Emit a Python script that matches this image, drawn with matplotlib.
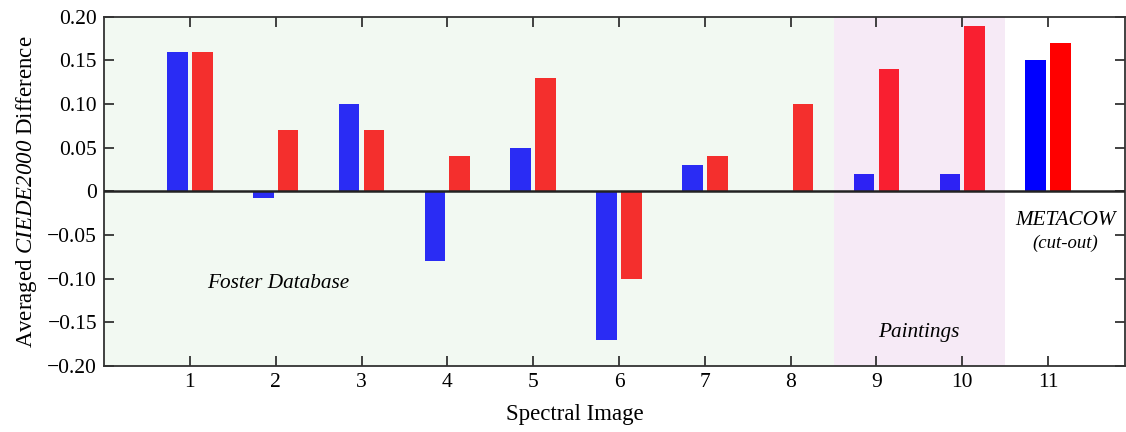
import matplotlib
matplotlib.use("Agg")
import matplotlib.pyplot as plt
from matplotlib.ticker import FuncFormatter
import numpy as np

images = [1, 2, 3, 4, 5, 6, 7, 8, 9, 10, 11]
blue_vals = [0.16, -0.008, 0.10, -0.08, 0.05, -0.17, 0.03, -0.001, 0.02, 0.02, 0.15]
red_vals = [0.16, 0.07, 0.07, 0.04, 0.13, -0.10, 0.04, 0.10, 0.14, 0.19, 0.17]
blue_cols = ['#2a2cf4'] * 8 + ['#2d22f4'] * 2 + ['#0000ff']
red_cols = ['#f42f2d'] * 8 + ['#f91f30'] * 2 + ['#ff0000']

plt.rcParams['font.family'] = ['Liberation Serif', 'DejaVu Serif']
plt.rcParams['mathtext.fontset'] = 'custom'
plt.rcParams['mathtext.rm'] = 'Liberation Serif:italic'
plt.rcParams['mathtext.it'] = 'Liberation Serif:italic'

fig = plt.figure(figsize=(11.26, 4.32), dpi=100)
ax = fig.add_axes([0.0924, 0.153, 0.907, 0.808])

# shaded regions
ax.axvspan(0, 8.5, color='#f2f9f2', zorder=0, lw=0)
ax.axvspan(8.5, 10.5, color='#f6eaf6', zorder=0, lw=0)

x = np.array(images)
w = 0.24
ax.bar(x - 0.145, blue_vals, w, color=blue_cols, zorder=2)
ax.bar(x + 0.145, red_vals, w, color=red_cols, zorder=2)
ax.axhline(0, color='#222222', lw=1.8, zorder=3)

ax.set_xlim(0, 11.9)
ax.set_ylim(-0.20, 0.20)
ax.set_xticks(images)
ax.set_yticks(np.arange(-0.20, 0.201, 0.05))
ax.yaxis.set_major_formatter(FuncFormatter(
    lambda v, p: '0' if abs(v) < 1e-9 else ('%.2f' % v).replace('-', '\u2212')))
ax.tick_params(direction='in', length=7, width=1.3, top=True, right=True,
               labelsize=15.5, color='#333333', pad=5)
for s in ax.spines.values():
    s.set_color('#333333')
    s.set_linewidth(1.3)

ax.set_xlabel('Spectral Image', fontsize=16.5)
ax.xaxis.set_label_coords(0.461, -0.11)
ax.set_ylabel('Averaged $CIEDE2000$ Difference', fontsize=16.5)
ax.yaxis.set_label_coords(-0.064, 0.5)

ax.text(2.03, -0.105, 'Foster Database', style='italic', fontsize=15.3, ha='center', va='center')
ax.text(9.49, -0.162, 'Paintings', style='italic', fontsize=15.3, ha='center', va='center')
ax.text(11.2, -0.033, 'METACOW', style='italic', fontsize=15.2, ha='center', va='center')
ax.text(11.2, -0.060, '(cut-out)', style='italic', fontsize=13.5, ha='center', va='center')

fig.savefig('out.png', dpi=100)
